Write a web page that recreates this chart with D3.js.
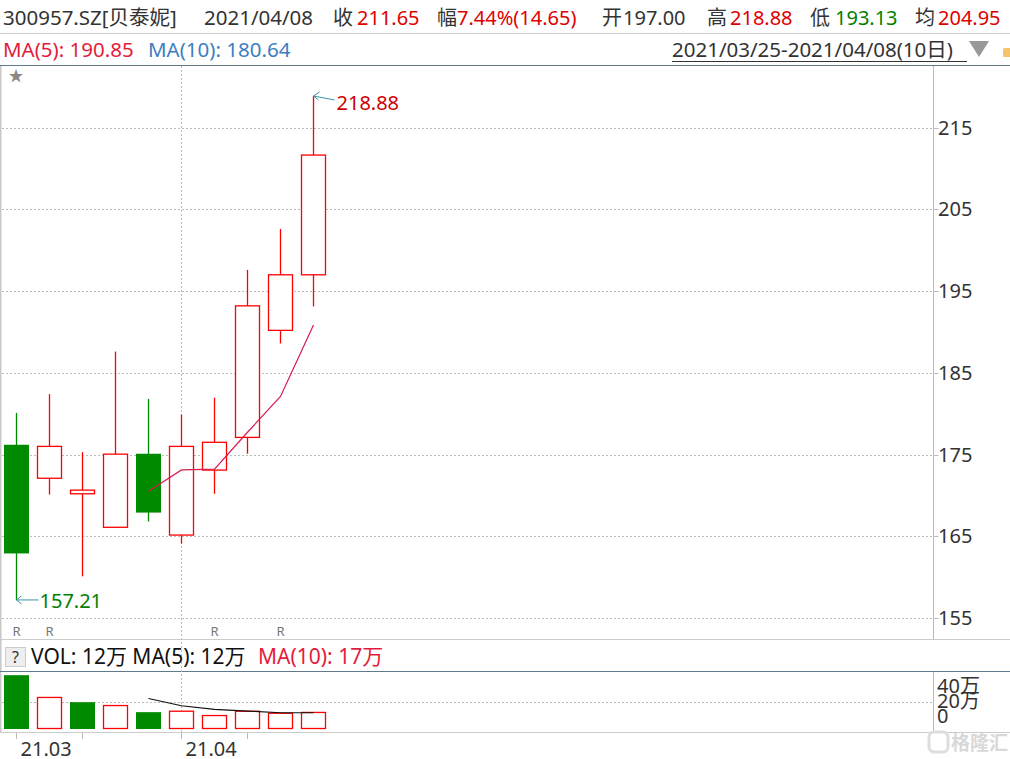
<!DOCTYPE html>
<html><head><meta charset="utf-8">
<script src="https://cdn.jsdelivr.net/npm/d3@7"></script>
<style>body{margin:0;background:#fff} svg{display:block} text{font-family:"Noto Sans","Noto Sans CJK SC",sans-serif}</style>
</head><body><svg id="c" width="1010" height="759"></svg>
<script>
const dates = ["2021/03/25","2021/03/26","2021/03/29","2021/03/30","2021/03/31","2021/04/01","2021/04/02","2021/04/06","2021/04/07","2021/04/08"];
const opens  = [176.2, 172.1, 170.2, 166.1, 175.1, 165.15, 173.1, 177.1, 190.2, 197.00];
const closes = [162.9, 176.0, 170.65, 175.05, 167.9, 176.0, 176.5, 193.2, 197.0, 211.65];
const highs  = [180.1, 182.4, 175.3, 187.6, 181.8, 179.9, 181.95, 197.6, 202.6, 218.88];
const lows   = [157.21, 170.1, 160.1, 166.1, 166.8, 164.1, 170.2, 175.1, 188.6, 193.13];
const volumes = [39.5, 23.0, 19.5, 17.0, 12.1, 12.8, 9.6, 12.8, 11.3, 11.9]; // 万
const priceMA5 = [null, null, null, null, 170.50, 173.12, 173.22, 177.73, 182.12, 190.85];
const volMA5 = [null, null, null, null, 22.2, 16.9, 14.2, 12.9, 11.7, 11.7];
const priceTicks = [155, 165, 175, 185, 195, 205, 215];
const volTicks = [0, 20, 40];
const volTickLabels = ["0", "20万", "40万"];
const rMarkDates = ["2021/03/25","2021/03/26","2021/04/02","2021/04/07"];
const xTickDates = ["2021/03/25","2021/03/29","2021/04/01","2021/04/06"];
const xLabelDates = ["2021/03/25","2021/04/01"];
const xLabelTexts = ["21.03","21.04"];

const RED = "#ff0000", GREEN = "#008a00", DARK = "#333", TEAL = "#3a95a8";
const svg = d3.select("#c");
const W = 1010, AX = 933.5;

const x = d3.scalePoint().domain(dates).range([16.5, 313.5]);
const y = d3.scaleLinear().domain([155, 215]).range([618, 127.7]);
const yv = d3.scaleLinear().domain([0, 40]).range([728.5, 674.5]);
const yvLab = d3.scaleLinear().domain([0, 40]).range([723, 693]);

// ---------- header ----------
function seg(t, xx, yy, col, size) {
  return svg.append("text").attr("x", xx).attr("y", yy).attr("fill", col)
    .attr("font-size", size || 20).text(t);
}
const r1 = 25;
seg("300957.SZ[贝泰妮]", 3, r1, DARK, 20.5);
seg("2021/04/08", 204, r1, DARK, 20.5);
seg("收", 333, r1, DARK); seg("211.65", 357, r1, "#e00000");
seg("幅", 437, r1, DARK); seg("7.44%(14.65)", 457, r1, "#e00000");
seg("开", 602, r1, DARK); seg("197.00", 623, r1, DARK);
seg("高", 707, r1, DARK); seg("218.88", 730, r1, "#e00000");
seg("低", 810, r1, DARK); seg("193.13", 835, r1, "#008000");
seg("均", 915, r1, DARK); seg("204.95", 938, r1, "#e00000");
svg.append("line").attr("x1", 0).attr("x2", W).attr("y1", 33.5).attr("y2", 33.5).attr("stroke", "#ccc");

const r2 = 57;
seg("MA(5): 190.85", 3, r2, "#e41c3c", 20.5);
seg("MA(10): 180.64", 148, r2, "#3d7ebf", 20.5);
seg("2021/03/25-2021/04/08(10日)", 672, r2, DARK, 20.5);
svg.append("line").attr("x1", 672).attr("x2", 967).attr("y1", 61.5).attr("y2", 61.5).attr("stroke", DARK);
svg.append("path").attr("d", "M969,41 L989,41 L979,57 Z").attr("fill", "#999");
svg.append("rect").attr("x", 1003).attr("y", 48).attr("width", 8).attr("height", 9).attr("rx", 1.5).attr("fill", "#f3c468");
svg.append("line").attr("x1", 0).attr("x2", W).attr("y1", 65.5).attr("y2", 65.5).attr("stroke", "#5f7a8c");

// ---------- frame lines ----------
svg.append("line").attr("x1", 0.5).attr("x2", 0.5).attr("y1", 66).attr("y2", 733).attr("stroke", "#c8c8c8").attr("stroke-width", 2);
svg.append("line").attr("x1", AX).attr("x2", AX).attr("y1", 66).attr("y2", 639).attr("stroke", "#bbb");
svg.append("line").attr("x1", 0).attr("x2", W).attr("y1", 639.5).attr("y2", 639.5).attr("stroke", "#ccc");
svg.append("line").attr("x1", 0).attr("x2", W).attr("y1", 671.5).attr("y2", 671.5).attr("stroke", "#5f7a8c");
svg.append("line").attr("x1", AX).attr("x2", AX).attr("y1", 672).attr("y2", 732).attr("stroke", "#bbb");
svg.append("line").attr("x1", 0).attr("x2", W).attr("y1", 732.5).attr("y2", 732.5).attr("stroke", "#ccc");

// star
svg.append("text").attr("x", 16).attr("y", 81).attr("text-anchor", "middle").attr("font-size", 15).attr("fill", "#888").text("★");

// ---------- price grid & axis ----------
const pg = svg.append("g");
pg.selectAll("line.g").data(priceTicks).join("line")
  .attr("x1", 2).attr("x2", AX).attr("y1", d => Math.round(y(d)) + 0.5).attr("y2", d => Math.round(y(d)) + 0.5)
  .attr("stroke", "#bbb").attr("stroke-dasharray", "2,2");
pg.selectAll("line.t").data(priceTicks).join("line")
  .attr("x1", AX).attr("x2", AX + 5).attr("y1", d => Math.round(y(d)) + 0.5).attr("y2", d => Math.round(y(d)) + 0.5)
  .attr("stroke", "#bbb");
pg.selectAll("text").data(priceTicks).join("text")
  .attr("x", 938).attr("y", d => y(d) + 7).attr("font-size", 20).attr("fill", DARK).text(d => d);

// vertical month gridline
svg.append("line").attr("x1", x("2021/04/01")).attr("x2", x("2021/04/01")).attr("y1", 66).attr("y2", 732)
  .attr("stroke", "#bbb").attr("stroke-dasharray", "2,2");

// ---------- candles ----------
const idx = d3.range(dates.length);
const cg = svg.append("g");
cg.selectAll("line.w").data(idx).join("line")
  .attr("x1", i => x(dates[i])).attr("x2", i => x(dates[i]))
  .attr("y1", i => y(highs[i])).attr("y2", i => y(lows[i]))
  .attr("stroke", i => closes[i] >= opens[i] ? RED : GREEN).attr("stroke-width", 1.3);
cg.selectAll("rect").data(idx).join("rect")
  .each(function(i) {
    const up = closes[i] >= opens[i];
    const top = y(Math.max(opens[i], closes[i])), bot = y(Math.min(opens[i], closes[i]));
    const s = d3.select(this);
    if (up) {
      s.attr("x", x(dates[i]) - 12).attr("width", 24).attr("y", top).attr("height", Math.max(bot - top, 1))
       .attr("fill", "#fff").attr("stroke", RED).attr("stroke-width", 1.3);
    } else {
      s.attr("x", x(dates[i]) - 12.5).attr("width", 25).attr("y", top).attr("height", bot - top)
       .attr("fill", GREEN);
    }
  });

// MA5 line
const maIdx = idx.filter(i => priceMA5[i] != null);
svg.append("path").datum(maIdx)
  .attr("d", d3.line().x(i => x(dates[i])).y(i => y(priceMA5[i])))
  .attr("fill", "none").attr("stroke", "#d81b50").attr("stroke-width", 1.2);

// high / low annotations
const hi = d3.maxIndex(highs), lo = d3.minIndex(lows);
const hx = x(dates[hi]), hy = y(highs[hi]);
svg.append("path").attr("d", `M${hx},${hy} L${hx + 21},${hy + 4} M${hx},${hy} L${hx + 6},${hy - 4} M${hx},${hy} L${hx + 5},${hy + 4}`)
  .attr("stroke", TEAL).attr("fill", "none");
svg.append("text").attr("x", hx + 23).attr("y", hy + 14).attr("font-size", 20).attr("fill", "#d00000").text(highs[hi].toFixed(2));
const lx = x(dates[lo]), ly = y(lows[lo]);
svg.append("path").attr("d", `M${lx},${ly} L${lx + 22},${ly} M${lx},${ly} L${lx + 5},${ly - 4} M${lx},${ly} L${lx + 5},${ly + 4}`)
  .attr("stroke", TEAL).attr("fill", "none");
svg.append("text").attr("x", lx + 23).attr("y", ly + 8).attr("font-size", 20).attr("fill", "#008000").text(lows[lo].toFixed(2));

// R markers
svg.selectAll("text.r").data(rMarkDates).join("text").attr("class", "r")
  .attr("x", d => x(d)).attr("y", 636).attr("text-anchor", "middle").attr("font-size", 13).attr("fill", "#777").text("R");

// ---------- volume header ----------
svg.append("rect").attr("x", 5.5).attr("y", 647.5).attr("width", 20).attr("height", 19).attr("fill", "#eee").attr("stroke", "#ccc");
svg.append("text").attr("x", 15.5).attr("y", 663).attr("text-anchor", "middle").attr("font-size", 16).attr("fill", DARK).text("?");
seg("VOL: 12万 MA(5): 12万", 31, 664, "#111", 21);
seg("MA(10): 17万", 258, 664, "#e41c3c", 21);

// volume grid
svg.append("line").attr("x1", 2).attr("x2", AX).attr("y1", Math.round(yv(20)) + 0.5).attr("y2", Math.round(yv(20)) + 0.5)
  .attr("stroke", "#bbb").attr("stroke-dasharray", "2,2");
svg.selectAll("text.vl").data(volTicks).join("text").attr("class", "vl")
  .attr("x", 937).attr("y", d => yvLab(d)).attr("font-size", 20).attr("fill", DARK).text((d, i) => volTickLabels[i]);

// volume bars (colour by close vs previous close)
const volUp = i => i === 0 ? closes[i] >= opens[i] : closes[i] >= closes[i - 1];
svg.append("g").selectAll("rect").data(idx).join("rect")
  .each(function(i) {
    const s = d3.select(this);
    const top = yv(volumes[i]), bot = yv(0);
    if (volUp(i)) {
      s.attr("x", x(dates[i]) - 12).attr("width", 24).attr("y", top).attr("height", bot - top)
       .attr("fill", "#fff").attr("stroke", RED).attr("stroke-width", 1.3);
    } else {
      s.attr("x", x(dates[i]) - 12.5).attr("width", 25).attr("y", top).attr("height", bot - top + 0.5).attr("fill", GREEN);
    }
  });
const vmIdx = idx.filter(i => volMA5[i] != null);
svg.append("path").datum(vmIdx)
  .attr("d", d3.line().x(i => x(dates[i])).y(i => yv(volMA5[i])))
  .attr("fill", "none").attr("stroke", "#111").attr("stroke-width", 1.1);

// ---------- x axis ----------
svg.selectAll("line.xt").data(xTickDates).join("line").attr("class", "xt")
  .attr("x1", d => x(d)).attr("x2", d => x(d)).attr("y1", 733).attr("y2", 739).attr("stroke", "#bbb");
svg.selectAll("text.xl").data(xLabelDates).join("text").attr("class", "xl")
  .attr("x", d => x(d) + 4).attr("y", 756).attr("font-size", 20).attr("fill", DARK).text((d, i) => xLabelTexts[i]);

// watermark
svg.append("rect").attr("x", 929).attr("y", 732).attr("width", 19).attr("height", 20).attr("rx", 5)
  .attr("fill", "none").attr("stroke", "#ddd").attr("stroke-width", 3);
svg.append("text").attr("x", 951).attr("y", 750).attr("font-size", 19).attr("fill", "#d8d8d8").attr("font-weight", "bold").text("格隆汇");
</script></body></html>
